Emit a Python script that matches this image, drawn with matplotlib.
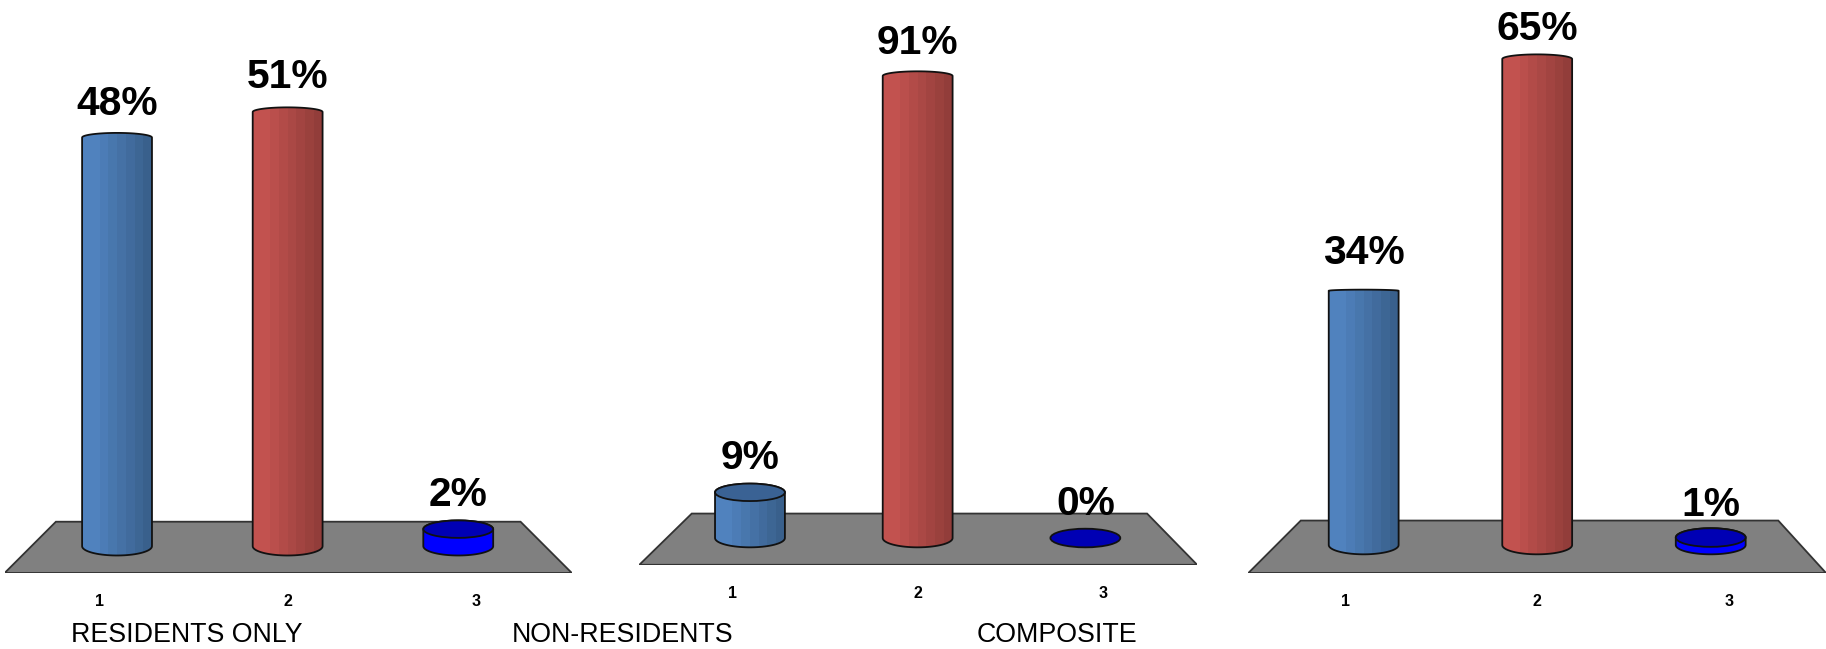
import numpy as np
import matplotlib
matplotlib.use("Agg")
import matplotlib.pyplot as plt
from matplotlib.path import Path
from matplotlib.patches import PathPatch, Polygon, Ellipse
from matplotlib.colors import to_rgb

categories = ["1", "2", "3"]
residents_only = [48, 51, 2]
non_residents = [9, 91, 0]
composite = [34, 65, 1]
panel_titles = ["RESIDENTS ONLY", "NON-RESIDENTS", "COMPOSITE"]

plt.rcParams["font.family"] = ["Liberation Sans", "DejaVu Sans"]

W, H = 1826, 649
K = W / 1568.0

# Panel geometry in preview pixels
panels = [
    dict(values=residents_only, x2=247, dx=146.5, base=469, scale=7.31,
         floor_top=448, floor_bot=492, bl=4, br=491, tl=48, tr=447,
         top_ry=[4, 4, 7.5], label_extra=[5, 6, 2], tick_pad=15, title_x=160),
    dict(values=non_residents, x2=788, dx=144, base=462, scale=4.36,
         floor_top=441, floor_bot=485, bl=549, br=1028, tl=594, tr=985,
         top_ry=[7.5, 4, 7], label_extra=[2, 4, 1], tick_pad=15.5, title_x=535),
    dict(values=composite, x2=1320, dx=149, base=468, scale=6.42,
         floor_top=447, floor_bot=492, bl=1072, br=1568, tl=1117, tr=1527,
         top_ry=[1, 4, 8], label_extra=[11, 2, 0], tick_pad=15, title_x=908),
]
HALF_W = 30.0      # preview px
BOT_RY = 8.0       # preview px
TICK_SPREAD = 1.105
body_colors = [("#5082BE", "#39608C"), ("#C2524F", "#923D3A"), ("#0000FF", "#0000FF")]
cap_colors = ["#3A6294", "#943E3B", "#0000B4"]

fig = plt.figure(figsize=(W / 100, H / 100), dpi=100, facecolor="white")


def half_ellipse(cx, cy, rx, ry, start, stop, n=40):
    t = np.linspace(start, stop, n)
    return np.column_stack([cx + rx * np.cos(t), cy + ry * np.sin(t)])


for p in panels:
    left, right = p["bl"] * K, p["br"] * K
    bottom_px = p["floor_bot"] * K
    ax = fig.add_axes([left / W, 1 - bottom_px / H, (right - left) / W, bottom_px / H])
    ax.patch.set_alpha(0)
    for s in ax.spines.values():
        s.set_visible(False)
    ux = p["dx"]            # preview px per category
    uy = p["scale"]         # preview px per percent
    ax.set_xlim(2 + (p["bl"] - p["x2"]) / ux, 2 + (p["br"] - p["x2"]) / ux)
    ax.set_ylim((p["base"] - p["floor_bot"]) / uy, p["base"] / uy)

    fx = lambda px: 2 + (px - p["x2"]) / ux
    fy = lambda py: (p["base"] - py) / uy
    ax.add_patch(Polygon([(fx(p["bl"]), fy(p["floor_bot"])), (fx(p["br"]), fy(p["floor_bot"])),
                          (fx(p["tr"]), fy(p["floor_top"])), (fx(p["tl"]), fy(p["floor_top"]))],
                         closed=True, facecolor="#808080", edgecolor="#333333", lw=1.3, zorder=1))

    rx = HALF_W / ux
    ry_b = BOT_RY / uy
    xs = np.arange(1, len(categories) + 1)
    for i, (x, v) in enumerate(zip(xs, p["values"])):
        ry_t = p["top_ry"][i] / uy
        if v > 0:
            low = half_ellipse(x, 0, rx, ry_b, np.pi, 2 * np.pi)
            up = half_ellipse(x, v, rx, ry_t, 0, np.pi)
            verts = np.vstack([low, up, low[:1]])
            outline = Path(verts, closed=True)
            c0, c1 = map(np.array, map(to_rgb, body_colors[i]))
            n = 8
            edges = np.linspace(x - rx, x + rx, n + 1)
            clip = PathPatch(outline, transform=ax.transData, fc="none", ec="none")
            ax.add_patch(clip)
            for j in range(n):
                frac = max(0, (j - 1)) / (n - 2)
                col = c0 + (c1 - c0) * min(frac, 1)
                rects = ax.bar(edges[j], v + ry_t + ry_b, width=edges[1] - edges[0] + 0.002,
                               bottom=-ry_b, align="edge", color=col, lw=0, zorder=3)
                for r in rects:
                    r.set_clip_path(clip)
            ax.add_patch(PathPatch(outline, fc="none", ec="#111111", lw=1.3, zorder=4))
            if v < 10:
                ax.add_patch(Ellipse((x, v), 2 * rx, 2 * ry_t, fc=cap_colors[i],
                                     ec="#111111", lw=1.3, zorder=5))
        else:
            ax.add_patch(Ellipse((x, v), 2 * rx, 2 * ry_b, fc=cap_colors[i],
                                 ec="#111111", lw=1.3, zorder=5))
            ry_t = ry_b
        off = 9 + p["label_extra"][i] * K * 0.72
        ax.annotate(f"{v}%", (x, v + ry_t), xytext=(0, off), textcoords="offset points",
                    ha="center", va="baseline", fontsize=29.3, fontweight="bold",
                    color="black", zorder=6, annotation_clip=False)

    ax.set_xticks(2 + (xs - 2) * TICK_SPREAD)
    ax.set_xticklabels(categories, fontsize=11.5, fontweight="bold")
    ax.set_yticks([])
    ax.tick_params(axis="x", length=0, pad=p["tick_pad"])

for p, t in zip(panels, panel_titles):
    fig.text(p["title_x"] * K / W, 1 - 545.5 * K / H, t, ha="center", va="center",
             fontsize=19.3, color="black")

fig.savefig("out.png", dpi=100, facecolor="white")
